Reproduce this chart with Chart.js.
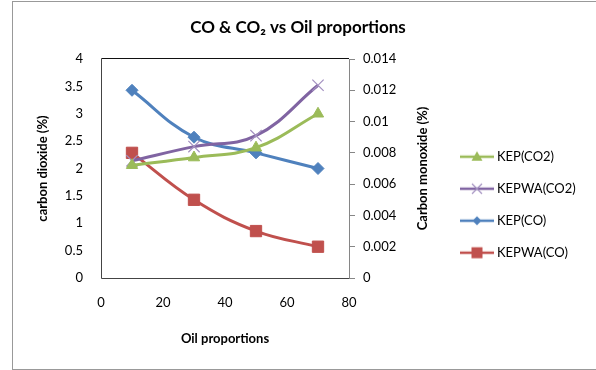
<!DOCTYPE html>
<html lang="en">
<head>
  <meta charset="UTF-8" />
  <title>CO & CO2 vs Oil proportions</title>
  <script src="https://cdn.jsdelivr.net/npm/chart.js"></script>
  <style>
    body {
      margin: 0;
      background: #ffffff;
    }
    .wrap {
      position: relative;
      width: 596px;
      height: 370px;
      overflow: hidden;
    }
    .frame {
      position: absolute;
      left: 12px;
      top: 1px;
      width: 700px;
      height: 367px;
      border: 1px solid #999;
    }
    canvas {
      position: absolute;
      left: 0;
      top: 0;
    }
  </style>
</head>
<body>
  <div class="wrap">
    <div class="frame"></div>
    <canvas id="oilChart" width="596" height="370"></canvas>
  </div>

  <script>
    // data
    const oilProportions = [10, 30, 50, 70];
    const kepCO2 = [2.06, 2.2, 2.38, 3.0];
    const kepwaCO2 = [2.14, 2.4, 2.6, 3.52];
    const kepCO = [0.012, 0.009, 0.008, 0.007];
    const kepwaCO = [0.008, 0.005, 0.003, 0.002];

    const FONT = 'Lato, "Open Sans", sans-serif';
    const pts = (xs, ys) => xs.map((x, i) => ({ x: x, y: ys[i] }));
    const trim = v => String(+v.toFixed(4));

    // little line + marker pictures for the legend
    function legendIcon(color, style) {
      const c = document.createElement('canvas');
      c.width = 34;
      c.height = 16;
      const g = c.getContext('2d');
      g.strokeStyle = color;
      g.fillStyle = color;
      g.lineWidth = 2.5;
      g.beginPath();
      g.moveTo(0, 8);
      g.lineTo(34, 8);
      g.stroke();
      g.beginPath();
      if (style === 'triangle') {
        g.moveTo(17, 2.5); g.lineTo(22.5, 12); g.lineTo(11.5, 12);
        g.closePath(); g.fill();
      } else if (style === 'cross') {
        g.strokeStyle = '#a390c0';
        g.lineWidth = 1.2;
        g.moveTo(12, 3); g.lineTo(22, 13);
        g.moveTo(22, 3); g.lineTo(12, 13);
        g.stroke();
      } else if (style === 'diamond') {
        g.moveTo(17, 3.5); g.lineTo(21.5, 8); g.lineTo(17, 12.5); g.lineTo(12.5, 8);
        g.closePath(); g.fill();
      } else {
        g.rect(11.5, 2.5, 11, 11); g.fill();
      }
      return c;
    }

    const icons = [
      legendIcon('#9bbb59', 'triangle'),
      legendIcon('#8064a2', 'cross'),
      legendIcon('#4f81bd', 'diamond'),
      legendIcon('#c0504d', 'square')
    ];

    // plot area border (top, left, bottom) + right axis title
    const framePlugin = {
      id: 'plotFrame',
      beforeLayout(chart) {
        const lg = chart.legend;
        if (lg && !lg._patched) {
          const fit = lg.fit;
          lg.fit = function () {
            fit.call(this);
            this.width = 151.5;
          };
          lg._patched = true;
        }
      },
      beforeDatasetsDraw(chart) {
        const { ctx, chartArea: a } = chart;
        const l = Math.round(a.left) + 0.5;
        const t = Math.round(a.top) - 0.5;
        const b = Math.round(a.bottom) + 0.5;
        const r = Math.round(a.right);
        ctx.save();
        ctx.lineWidth = 1;
        ctx.strokeStyle = '#111';
        ctx.beginPath();
        ctx.moveTo(l, t); ctx.lineTo(r, t);
        ctx.stroke();
        ctx.strokeStyle = '#444';
        ctx.beginPath();
        ctx.moveTo(l, t); ctx.lineTo(l, b); ctx.lineTo(r, b);
        ctx.stroke();
        ctx.restore();
      },
      afterDraw(chart) {
        const { ctx, chartArea: a } = chart;
        const y1 = chart.scales.y1;
        ctx.save();
        ctx.translate(y1.left + 74, (a.top + a.bottom) / 2);
        ctx.rotate(-Math.PI / 2);
        ctx.font = 'bold 13px ' + FONT;
        ctx.fillStyle = '#000';
        ctx.textAlign = 'center';
        ctx.textBaseline = 'middle';
        ctx.fillText('Carbon monoxide (%)', 0, 0);
        ctx.restore();
      }
    };

    const line = (label, values, color, style, radius, axis) => ({
      label: label,
      data: pts(oilProportions, values),
      yAxisID: axis,
      borderColor: color,
      backgroundColor: color,
      borderWidth: 3,
      tension: 0.4,
      pointStyle: style,
      pointRadius: radius,
      pointHoverRadius: radius,
      pointBackgroundColor: color,
      pointBorderColor: style === 'crossRot' ? '#a390c0' : color,
      pointBorderWidth: style === 'crossRot' ? 1.2 : 1
    });

    const ctx = document.getElementById('oilChart').getContext('2d');
    new Chart(ctx, {
      type: 'line',
      data: {
        datasets: [
          line('KEP(CO2)', kepCO2, '#9bbb59', 'triangle', 6.5, 'y'),
          line('KEPWA(CO2)', kepwaCO2, '#8064a2', 'crossRot', 8, 'y'),
          line('KEP(CO)', kepCO, '#4f81bd', 'rectRot', 6, 'y1'),
          line('KEPWA(CO)', kepwaCO, '#c0504d', 'rect', 8, 'y1')
        ]
      },
      plugins: [framePlugin],
      options: {
        responsive: false,
        animation: false,
        layout: { padding: 0 },
        font: { family: FONT },
        plugins: {
          tooltip: { enabled: false },
          title: {
            display: true,
            text: 'CO & CO\u2082 vs Oil proportions',
            color: '#000',
            font: { family: FONT, size: 17, weight: 'bold' },
            padding: { top: 17, bottom: 21.6 }
          },
          legend: {
            position: 'right',
            align: 'center',
            title: {
              display: true,
              text: ' ',
              font: { family: FONT, size: 12 },
              padding: { top: 25, bottom: 0 }
            },
            labels: {
              usePointStyle: true,
              pointStyleWidth: 27,
              padding: 19,
              color: '#000',
              font: { family: FONT, size: 13 },
              generateLabels: chart =>
                Chart.defaults.plugins.legend.labels.generateLabels(chart)
                  .map((item, i) => Object.assign(item, { pointStyle: icons[i] }))
            }
          }
        },
        scales: {
          x: {
            type: 'linear',
            min: 0,
            max: 80,
            grid: { display: false, drawTicks: false },
            border: { display: false },
            ticks: {
              stepSize: 20,
              padding: 17,
              color: '#000',
              font: { family: FONT, size: 13 }
            },
            title: {
              display: true,
              text: 'Oil proportions',
              color: '#000',
              font: { family: FONT, size: 13, weight: 'bold' },
              padding: { top: 0, bottom: 23 }
            },
            afterFit: s => { s.height = 92; }
          },
          y: {
            position: 'left',
            min: 0,
            max: 4,
            grid: { display: false, drawTicks: false },
            border: { display: false },
            ticks: {
              stepSize: 0.5,
              padding: 18,
              color: '#000',
              font: { family: FONT, size: 13 },
              callback: v => trim(v)
            },
            title: {
              display: true,
              text: 'carbon dioxide (%)',
              color: '#000',
              font: { family: FONT, size: 13, weight: 'bold' },
              padding: { top: 35, bottom: 0 }
            },
            afterFit: s => { s.width = 101; }
          },
          y1: {
            position: 'right',
            min: 0,
            max: 0.014,
            grid: {
              drawOnChartArea: false,
              drawTicks: true,
              tickLength: 6,
              color: '#868686'
            },
            border: { display: true, color: '#868686', width: 1 },
            ticks: {
              stepSize: 0.002,
              padding: 8,
              color: '#000',
              font: { family: FONT, size: 13 },
              callback: v => trim(v)
            },
            afterFit: s => { s.width = 95.5; }
          }
        }
      }
    });
  </script>
</body>
</html>
